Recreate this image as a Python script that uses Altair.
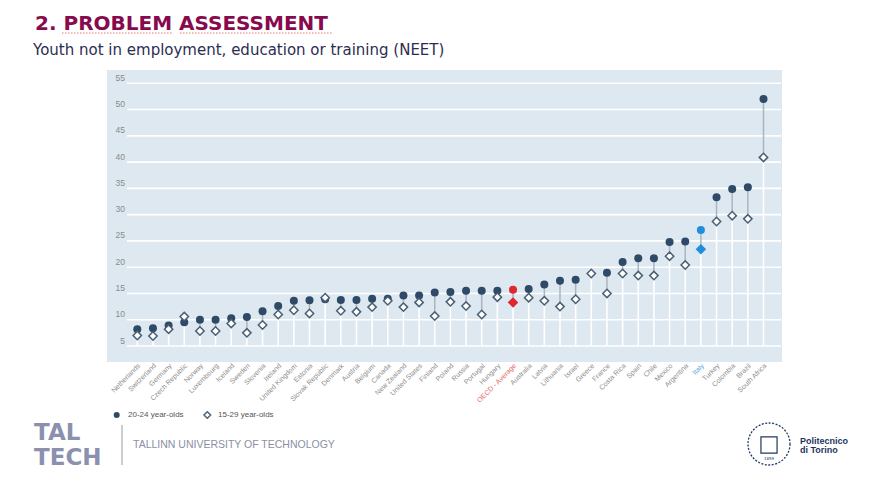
import altair as alt
import pandas as pd

countries = ["Netherlands", "Switzerland", "Germany", "Czech Republic", "Norway", "Luxembourg",
             "Iceland", "Sweden", "Slovenia", "Ireland", "United Kingdom", "Estonia",
             "Slovak Republic", "Denmark", "Austria", "Belgium", "Canada", "New Zealand",
             "United States", "Finland", "Poland", "Russia", "Portugal", "Hungary",
             "OECD - Average", "Australia", "Latvia", "Lithuania", "Israel", "Greece",
             "France", "Costa Rica", "Spain", "Chile", "Mexico", "Argentina", "Italy",
             "Turkey", "Colombia", "Brazil", "South Africa"]
neet_20_24 = [8.2, 8.4, 8.9, 9.5, 10.0, 10.0, 10.3, 10.5, 11.6, 12.6, 13.6, 13.7, 13.9, 13.75,
              13.75, 14.0, 14.0, 14.6, 14.6, 15.2, 15.3, 15.5, 15.5, 15.5, 15.7, 15.85, 16.7,
              17.4, 17.6, None, 18.95, 21.0, 21.7, 21.7, 24.8, 24.9, 27.1, 33.3, 34.9, 35.2, 52.0]
neet_15_29 = [7.0, 6.9, 8.2, 10.6, 7.85, 7.85, 9.3, 7.5, 9.0, 11.0, 11.8, 11.2, 14.2, 11.7,
              11.5, 12.4, 13.6, 12.4, 13.3, 10.7, 13.4, 12.6, 11.0, 14.3, 13.3, 14.2, 13.6,
              12.5, 13.9, 18.8, 15.0, 18.8, 18.4, 18.4, 22.1, 20.4, 23.4, 28.7, 29.8, 29.2, 40.9]
y_ticks = [5, 10, 15, 20, 25, 30, 35, 40, 45, 50, 55]
title_text = "2. PROBLEM ASSESSMENT"
subtitle_text = "Youth not in employment, education or training (NEET)"
legend_labels = ["20-24 year-olds", "15-29 year-olds"]
footer_left = "TALLINN UNIVERSITY OF TECHNOLOGY"
logo_lines = ["TAL", "TECH"]
polito_lines = ["Politecnico", "di Torino"]
seal_year = "1859"

df = pd.DataFrame({"country": countries, "a": neet_20_24, "b": neet_15_29})
ticks_df = pd.DataFrame({"v": y_ticks})
one = pd.DataFrame({"k": [0]})

W, H = 874, 484
NAVY = "#2e4a66"
RED = "#e0262f"
BLUE = "#1d8fdc"

xs = alt.Scale(type="point", domain=countries, range=[129.3, 755.5], padding=0)
ys = alt.Scale(domain=[5, 55], range=[338, 75.3], nice=False, zero=False)
X = alt.X("country:N", scale=xs, axis=None)

grp_expr = ('datum.country === "OECD - Average" ? "oecd" : '
            '(datum.country === "Italy" ? "italy" : "other")')
base = alt.Chart(df).transform_calculate(
    lo="isValid(datum.a) ? min(datum.a, datum.b) : datum.b",
    hi="isValid(datum.a) ? max(datum.a, datum.b) : datum.b",
    grp=grp_expr
)
gdom = ["other", "oecd", "italy"]

panel = alt.Chart(one).mark_rect(color="#dde8f0").encode(
    x=alt.value(99), x2=alt.value(774), y=alt.value(62), y2=alt.value(354))

grid = alt.Chart(ticks_df).mark_rule(color="white", strokeWidth=1.6).encode(
    y=alt.Y("v:Q", scale=ys, axis=None), x=alt.value(119), x2=alt.value(773))

ylab = alt.Chart(ticks_df).mark_text(
    align="right", baseline="bottom", fontSize=8.5, color="#8a8a8a",
    font="Liberation Sans", dy=-0.5).encode(
    y=alt.Y("v:Q", scale=ys, axis=None), x=alt.value(117), text="v:Q")

stems = base.mark_rule(color="white", strokeWidth=1.6).encode(
    x=X, y=alt.Y("lo:Q", scale=ys, axis=None), y2=alt.datum(5))

conn = base.mark_rule(color="#a9b5c0", strokeWidth=1.5).encode(
    x=X, y=alt.Y("lo:Q", scale=ys, axis=None), y2="hi:Q")

dots = base.transform_filter("isValid(datum.a)").mark_point(
    shape="circle", filled=True, size=64, opacity=1).encode(
    x=X, y=alt.Y("a:Q", scale=ys, axis=None),
    color=alt.Color("grp:N", scale=alt.Scale(domain=gdom, range=[NAVY, RED, BLUE]), legend=None))

diamonds = base.mark_point(shape="diamond", filled=True, size=70, opacity=1, strokeWidth=1.5).encode(
    x=X, y=alt.Y("b:Q", scale=ys, axis=None),
    fill=alt.Fill("grp:N", scale=alt.Scale(domain=gdom, range=["white", RED, BLUE]), legend=None),
    stroke=alt.Stroke("grp:N", scale=alt.Scale(domain=gdom, range=["#4a5f75", RED, BLUE]), legend=None))

xlabels = base.mark_text(align="right", baseline="middle", angle=315, fontSize=7,
                         font="Liberation Sans", dx=3).encode(
    x=X, y=alt.value(359), text="country:N",
    color=alt.Color("grp:N", scale=alt.Scale(domain=gdom, range=["#8c8c8c", "#e06a6a", "#5aa5e0"]), legend=None))

def txt(s, x, y, **kw):
    return alt.Chart(one).mark_text(text=s, **kw).encode(x=alt.value(x), y=alt.value(y))

leg_dot = alt.Chart(one).mark_point(shape="circle", filled=True, size=36, opacity=1, color=NAVY).encode(
    x=alt.value(108.7), y=alt.value(407))
leg_dia = alt.Chart(one).mark_point(shape="diamond", filled=True, size=45, opacity=1, fill="white",
                                    stroke="#4a5f75", strokeWidth=1.4).encode(
    x=alt.value(199.3), y=alt.value(407))
leg_t1 = txt(legend_labels[0], 120, 407, align="left", baseline="middle", fontSize=8,
             font="Liberation Sans", color="#555555")
leg_t2 = txt(legend_labels[1], 210, 407, align="left", baseline="middle", fontSize=8,
             font="Liberation Sans", color="#555555")

title = txt(title_text, 27, 22, align="left", baseline="alphabetic", fontSize=20,
            font="DejaVu Sans", fontWeight="bold", color="#870a4f")
squiggle1 = alt.Chart(one).mark_rule(color="#d9534f", strokeWidth=0.8, strokeDash=[1.5, 1.5]).encode(
    x=alt.value(54), x2=alt.value(164), y=alt.value(25))
squiggle2 = alt.Chart(one).mark_rule(color="#d9534f", strokeWidth=0.8, strokeDash=[1.5, 1.5]).encode(
    x=alt.value(172), x2=alt.value(324), y=alt.value(25))
subtitle = txt(subtitle_text, 25, 47, align="left", baseline="alphabetic", fontSize=15,
               font="DejaVu Sans", color="#2d2d52")

tal = txt(logo_lines[0], 26, 432, align="left", baseline="alphabetic", fontSize=23,
          font="DejaVu Sans", fontWeight="bold", color="#8a90ae")
tech = txt(logo_lines[1], 26, 457, align="left", baseline="alphabetic", fontSize=23,
           font="DejaVu Sans", fontWeight="bold", color="#8a90ae")
vline = alt.Chart(one).mark_rule(color="#9a9a9a", strokeWidth=1).encode(
    x=alt.value(114), y=alt.value(417), y2=alt.value(457))
ttu = txt(footer_left, 125, 437, align="left", baseline="middle", fontSize=10.5,
          font="Liberation Sans", color="#8b8fa3")

seal = alt.Chart(one).mark_point(shape="circle", filled=False, size=1764, opacity=1,
                                 stroke="#1f3864", strokeWidth=1.3, strokeDash=[2, 1.5]).encode(
    x=alt.value(761), y=alt.value(436))
seal_in = alt.Chart(one).mark_point(shape="square", filled=False, size=260, opacity=1,
                                    stroke="#1f3864", strokeWidth=1.2).encode(
    x=alt.value(761), y=alt.value(437))
seal_t = txt(seal_year, 761, 451, align="center", baseline="middle", fontSize=4,
             font="DejaVu Sans", color="#1f3864")
pol1 = txt(polito_lines[0], 792, 432.5, align="left", baseline="middle", fontSize=9,
           font="Liberation Sans", fontWeight="bold", color="#1c355e")
pol2 = txt(polito_lines[1], 792, 441.5, align="left", baseline="middle", fontSize=9,
           font="Liberation Sans", fontWeight="bold", color="#1c355e")

chart = alt.layer(
    panel, grid, ylab, stems, conn, dots, diamonds, xlabels,
    leg_dot, leg_dia, leg_t1, leg_t2, title, squiggle1, squiggle2, subtitle,
    tal, tech, vline, ttu, seal, seal_in, seal_t, pol1, pol2
).resolve_scale(
    color="independent", fill="independent", stroke="independent"
).properties(
    width=W, height=H, padding=0, autosize="none", background="white"
).configure_view(stroke=None)

chart.save("out.html", embed_options={"renderer": "svg", "actions": False})
